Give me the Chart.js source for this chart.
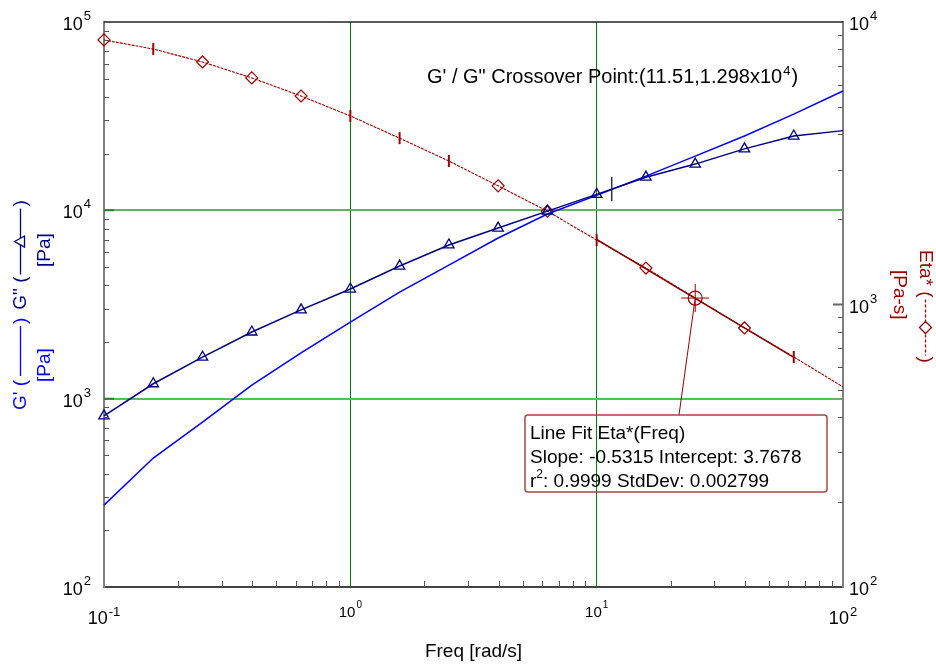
<!DOCTYPE html>
<html>
<head>
<meta charset="utf-8">
<script src="https://cdn.jsdelivr.net/npm/chart.js@4.4.1/dist/chart.umd.min.js"></script>
<style>
  html, body { margin: 0; padding: 0; background: #fff; }
  canvas { display: block; }
</style>
</head>
<body>
<canvas id="chart" width="936" height="666" style="width:936px;height:666px"></canvas>
<script>
// data
const freq = [0.1, 0.1585, 0.2512, 0.3981, 0.631, 1, 1.585, 2.512, 3.981, 6.31, 10, 15.85, 25.12, 39.81, 63.1, 100];
const gPrime = [272, 484, 751, 1180, 1750, 2550, 3680, 5120, 7130, 9560, 12000, 15200, 19400, 24800, 32400, 43000];
const gDouble = [810, 1200, 1660, 2260, 2960, 3820, 5060, 6550, 8050, 9900, 12150, 15000, 17600, 21200, 24800, 26500];
const eta = [8640, 8020, 7220, 6340, 5470, 4650, 3880, 3220, 2630, 2140, 1690, 1346, 1054, 826, 652, 511];
// marker kind per eta point: d = diamond, t = tick, n = none
const etaMarks = ['d', 't', 'd', 'd', 'd', 't', 't', 't', 'd', 'd', 't', 'd', 'n', 'd', 't', 'n'];

const fitFreq = [10, 63.1];
const fitEta = [1700, 650];

const crossFreq = 11.51;
const crossG = 12980;
const cursorFreq = 25.12;
const cursorEta = 1054;

const xMajor = [0.1, 1, 10, 100];
const yMajor = [100, 1000, 10000, 100000];
const y2Major = [100, 1000, 10000];
const xLabels = ['-1', '0', '1', '2'];
const yLabels = ['2', '3', '4', '5'];
const y2Labels = ['2', '3', '4'];

const FONT = '"Liberation Sans", Arial, sans-serif';
const BLUE = '#0000ff';
const NAVY = '#000080';
const RED = '#990000';

function pts(xs, ys) {
    return xs.map((x, i) => ({ x: x, y: ys[i] }));
}

function powLabel(ctx, exp, x, y, size, expSize, raise, align) {
    ctx.font = size + 'px ' + FONT;
    const wb = ctx.measureText('10').width;
    ctx.font = expSize + 'px ' + FONT;
    const we = ctx.measureText(exp).width;
    const total = wb + 1 + we;
    let x0 = x;
    if (align == 'right') x0 = x - total;
    if (align == 'center') x0 = x - total / 2;
    ctx.fillStyle = '#000';
    ctx.textAlign = 'left';
    ctx.textBaseline = 'alphabetic';
    ctx.font = size + 'px ' + FONT;
    ctx.fillText('10', x0, y);
    ctx.font = expSize + 'px ' + FONT;
    ctx.fillText(exp, x0 + wb + 1, y - raise);
}

// draws text + legend line pieces along a rotated baseline
function drawRun(ctx, x, y, angle, items) {
    ctx.save();
    ctx.translate(x, y);
    ctx.rotate(angle);
    ctx.textAlign = 'left';
    ctx.textBaseline = 'alphabetic';
    let cx = 0;
    items.forEach(it => {
        if (it.text !== undefined) {
            ctx.font = '19px ' + FONT;
            ctx.fillStyle = it.color;
            ctx.fillText(it.text, cx, 0);
            cx += ctx.measureText(it.text).width;
        } else if (it.line) {
            const ly = -5.5;
            ctx.strokeStyle = it.color;
            ctx.lineWidth = 1.3;
            ctx.setLineDash(it.dash || []);
            ctx.beginPath();
            ctx.moveTo(cx, ly);
            ctx.lineTo(cx + it.line, ly);
            ctx.stroke();
            ctx.setLineDash([]);
            const mx = cx + it.line / 2;
            if (it.marker == 'triangle') {
                ctx.fillStyle = '#fff';
                ctx.beginPath();
                ctx.moveTo(mx, ly - 6);
                ctx.lineTo(mx + 5.5, ly + 4);
                ctx.lineTo(mx - 5.5, ly + 4);
                ctx.closePath();
                ctx.fill();
                ctx.stroke();
            } else if (it.marker == 'diamond') {
                ctx.fillStyle = '#fff';
                ctx.beginPath();
                ctx.moveTo(mx, ly - 6);
                ctx.lineTo(mx + 6, ly);
                ctx.lineTo(mx, ly + 6);
                ctx.lineTo(mx - 6, ly);
                ctx.closePath();
                ctx.fill();
                ctx.stroke();
            }
            cx += it.line;
        } else if (it.gap) {
            cx += it.gap;
        }
    });
    ctx.restore();
}

const decorPlugin = {
    id: 'decor',
    beforeDatasetsDraw(chart) {
        const ctx = chart.ctx;
        const xs = chart.scales.x, y2 = chart.scales.y2;
        ctx.save();
        // leader line from cursor to the fit box
        ctx.strokeStyle = RED;
        ctx.lineWidth = 1;
        ctx.beginPath();
        ctx.moveTo(xs.getPixelForValue(cursorFreq), y2.getPixelForValue(cursorEta));
        ctx.lineTo(679, 415);
        ctx.stroke();
        ctx.restore();
    },
    afterDraw(chart) {
        const ctx = chart.ctx;
        const a = chart.chartArea;
        const xs = chart.scales.x, ys = chart.scales.y, y2 = chart.scales.y2;
        ctx.save();

        // top frame line
        ctx.strokeStyle = '#222';
        ctx.lineWidth = 1.5;
        ctx.beginPath();
        ctx.moveTo(a.left, a.top);
        ctx.lineTo(a.right, a.top);
        ctx.stroke();

        // minor ticks, drawn inward
        ctx.strokeStyle = '#555';
        ctx.lineWidth = 1;
        ctx.beginPath();
        for (let d = 0; d < xMajor.length - 1; d++) {
            for (let m = 2; m <= 9; m++) {
                const px = Math.round(xs.getPixelForValue(xMajor[d] * m)) + 0.5;
                ctx.moveTo(px, a.bottom);
                ctx.lineTo(px, a.bottom - 6);
            }
        }
        for (let d = 0; d < yMajor.length - 1; d++) {
            for (let m = 2; m <= 9; m++) {
                const py = Math.round(ys.getPixelForValue(yMajor[d] * m)) + 0.5;
                ctx.moveTo(a.left, py);
                ctx.lineTo(a.left + 5, py);
            }
        }
        for (let d = 0; d < y2Major.length - 1; d++) {
            for (let m = 2; m <= 9; m++) {
                const py = Math.round(y2.getPixelForValue(y2Major[d] * m)) + 0.5;
                ctx.moveTo(a.right, py);
                ctx.lineTo(a.right - 5, py);
            }
        }
        ctx.stroke();

        // major ticks
        ctx.lineWidth = 2;
        ctx.strokeStyle = '#2e7d32';
        ctx.beginPath();
        [1000, 10000].forEach(v => {
            const py = ys.getPixelForValue(v);
            ctx.moveTo(a.left, py);
            ctx.lineTo(a.left + 10, py);
        });
        ctx.stroke();
        ctx.strokeStyle = '#666';
        ctx.beginPath();
        const p3 = y2.getPixelForValue(1000);
        ctx.moveTo(a.right, p3);
        ctx.lineTo(a.right - 10, p3);
        ctx.stroke();

        // tick labels
        yMajor.forEach((v, i) => {
            powLabel(ctx, yLabels[i], 91, ys.getPixelForValue(v) + 8, 18, 13, 10, 'right');
        });
        y2Major.forEach((v, i) => {
            powLabel(ctx, y2Labels[i], 849, y2.getPixelForValue(v) + 8, 18, 13, 10, 'left');
        });
        xMajor.forEach((v, i) => {
            const px = xs.getPixelForValue(v);
            if (i == 0 || i == xMajor.length - 1) {
                powLabel(ctx, xLabels[i], px, 624, 18, 13, 8, 'center');
            } else {
                powLabel(ctx, xLabels[i], px, 617, 15, 10, 9, 'center');
            }
        });

        // axis titles
        ctx.fillStyle = '#000';
        ctx.font = '19px ' + FONT;
        ctx.textAlign = 'center';
        ctx.fillText('Freq [rad/s]', (a.left + a.right) / 2, 657);

        drawRun(ctx, 26, 410, -Math.PI / 2, [
            { text: "G' (", color: BLUE },
            { gap: 4 },
            { line: 50, color: BLUE },
            { gap: 2 },
            { text: ')', color: BLUE },
            { gap: 8 },
            { text: 'G" (', color: NAVY },
            { gap: 2 },
            { line: 66, color: NAVY, marker: 'triangle' },
            { gap: 2 },
            { text: ')', color: NAVY }
        ]);
        drawRun(ctx, 50, 382, -Math.PI / 2, [{ text: '[Pa]', color: BLUE }]);
        drawRun(ctx, 50, 267, -Math.PI / 2, [{ text: '[Pa]', color: NAVY }]);

        drawRun(ctx, 920, 250, Math.PI / 2, [
            { text: 'Eta* (', color: RED },
            { gap: 2 },
            { line: 56, color: RED, dash: [3, 2], marker: 'diamond' },
            { gap: 1 },
            { text: ')', color: RED }
        ]);
        drawRun(ctx, 894, 270, Math.PI / 2, [{ text: '[Pa-s]', color: RED }]);

        // crossover annotation
        ctx.textAlign = 'left';
        ctx.fillStyle = '#000';
        ctx.font = '20px ' + FONT;
        const s1 = 'G\' / G" Crossover Point:(11.51,1.298x10';
        ctx.fillText(s1, 427, 83);
        const w1 = ctx.measureText(s1).width;
        ctx.font = '13px ' + FONT;
        ctx.fillText('4', 427 + w1 + 1, 75);
        const w2 = ctx.measureText('4').width;
        ctx.font = '20px ' + FONT;
        ctx.fillText(')', 427 + w1 + w2 + 2, 83);

        // line fit box
        ctx.strokeStyle = '#a04848';
        ctx.lineWidth = 1.5;
        ctx.beginPath();
        ctx.roundRect(525, 415, 302, 77, 3);
        ctx.stroke();
        ctx.fillStyle = '#000';
        ctx.font = '19px ' + FONT;
        ctx.fillText('Line Fit Eta*(Freq)', 530, 439);
        ctx.fillText('Slope: -0.5315 Intercept: 3.7678', 530, 463);
        ctx.fillText('r', 530, 487);
        const wr = ctx.measureText('r').width;
        ctx.font = '12px ' + FONT;
        ctx.fillText('2', 530 + wr, 478);
        const w2b = ctx.measureText('2').width;
        ctx.font = '19px ' + FONT;
        ctx.fillText(': 0.9999 StdDev: 0.002799', 530 + wr + w2b, 487);

        ctx.restore();
    }
};

function majorTicks(list) {
    return function (scale) {
        scale.ticks = list.map(v => ({ value: v }));
    };
}

const etaStyles = etaMarks.map(m => m == 't' ? 'line' : 'rectRot');
const etaRadius = etaMarks.map(m => m == 'n' ? 0 : 6);
const etaRotation = etaMarks.map(m => m == 't' ? 90 : 0);
const etaWidth = etaMarks.map(m => m == 't' ? 2 : 1.2);

const config = {
    type: 'scatter',
    data: {
        datasets: [
            {
                label: 'cursor circle',
                data: [{ x: cursorFreq, y: cursorEta }],
                yAxisID: 'y2',
                pointStyle: 'circle',
                pointRadius: 7,
                pointBorderColor: RED,
                pointBackgroundColor: 'rgba(0,0,0,0)',
                pointBorderWidth: 1.2,
                clip: false
            },
            {
                label: 'cursor cross',
                data: [{ x: cursorFreq, y: cursorEta }],
                yAxisID: 'y2',
                pointStyle: 'cross',
                pointRadius: 14,
                pointBorderColor: RED,
                pointBorderWidth: 1,
                clip: false
            },
            {
                label: 'crossover',
                data: [{ x: crossFreq, y: crossG }],
                yAxisID: 'y',
                pointStyle: 'line',
                rotation: 90,
                pointRadius: 12,
                pointBorderColor: '#333',
                pointBorderWidth: 1.5,
                clip: false
            },
            {
                label: "G''",
                data: pts(freq, gDouble),
                yAxisID: 'y',
                showLine: true,
                borderColor: NAVY,
                borderWidth: 1.5,
                pointStyle: 'triangle',
                pointRadius: freq.map((f, i) => i == freq.length - 1 ? 0 : 6),
                pointBorderColor: NAVY,
                pointBackgroundColor: 'rgba(0,0,0,0)',
                pointBorderWidth: 1.3,
                clip: false
            },
            {
                label: "G'",
                data: pts(freq, gPrime),
                yAxisID: 'y',
                showLine: true,
                borderColor: BLUE,
                borderWidth: 1.5,
                pointRadius: 0,
                clip: false
            },
            {
                label: 'Line Fit',
                data: pts(fitFreq, fitEta),
                yAxisID: 'y2',
                showLine: true,
                borderColor: '#880000',
                borderWidth: 1.6,
                pointRadius: 0,
                clip: false
            },
            {
                label: 'Eta*',
                data: pts(freq, eta),
                yAxisID: 'y2',
                showLine: true,
                borderColor: RED,
                borderWidth: 1.1,
                borderDash: [3, 1],
                pointStyle: etaStyles,
                pointRadius: etaRadius,
                rotation: etaRotation,
                pointBorderWidth: etaWidth,
                pointBorderColor: RED,
                pointBackgroundColor: 'rgba(0,0,0,0)',
                clip: false
            }
        ]
    },
    options: {
        responsive: false,
        animation: false,
        events: [],
        layout: {
            padding: { left: 104, right: 93, top: 22, bottom: 79 }
        },
        plugins: {
            legend: { display: false },
            tooltip: { enabled: false }
        },
        scales: {
            x: {
                type: 'logarithmic',
                min: 0.1,
                max: 100,
                afterBuildTicks: majorTicks(xMajor),
                ticks: { display: false },
                grid: {
                    drawTicks: false,
                    color: (c) => (c.tick && (c.tick.value == 1 || c.tick.value == 10)) ? '#008000' : 'rgba(0,0,0,0)',
                    lineWidth: 1
                },
                border: { display: true, color: '#444', width: 2 }
            },
            y: {
                type: 'logarithmic',
                position: 'left',
                min: 100,
                max: 100000,
                afterBuildTicks: majorTicks(yMajor),
                ticks: { display: false },
                grid: {
                    drawTicks: false,
                    color: (c) => (c.tick && (c.tick.value == 1000 || c.tick.value == 10000)) ? '#5cb85c' : 'rgba(0,0,0,0)',
                    lineWidth: 2
                },
                border: { display: true, color: '#808080', width: 2 }
            },
            y2: {
                type: 'logarithmic',
                position: 'right',
                min: 100,
                max: 10000,
                afterBuildTicks: majorTicks(y2Major),
                ticks: { display: false },
                grid: { display: false, drawTicks: false },
                border: { display: true, color: '#808080', width: 2 }
            }
        }
    },
    plugins: [decorPlugin]
};

new Chart(document.getElementById('chart'), config);
</script>
</body>
</html>
